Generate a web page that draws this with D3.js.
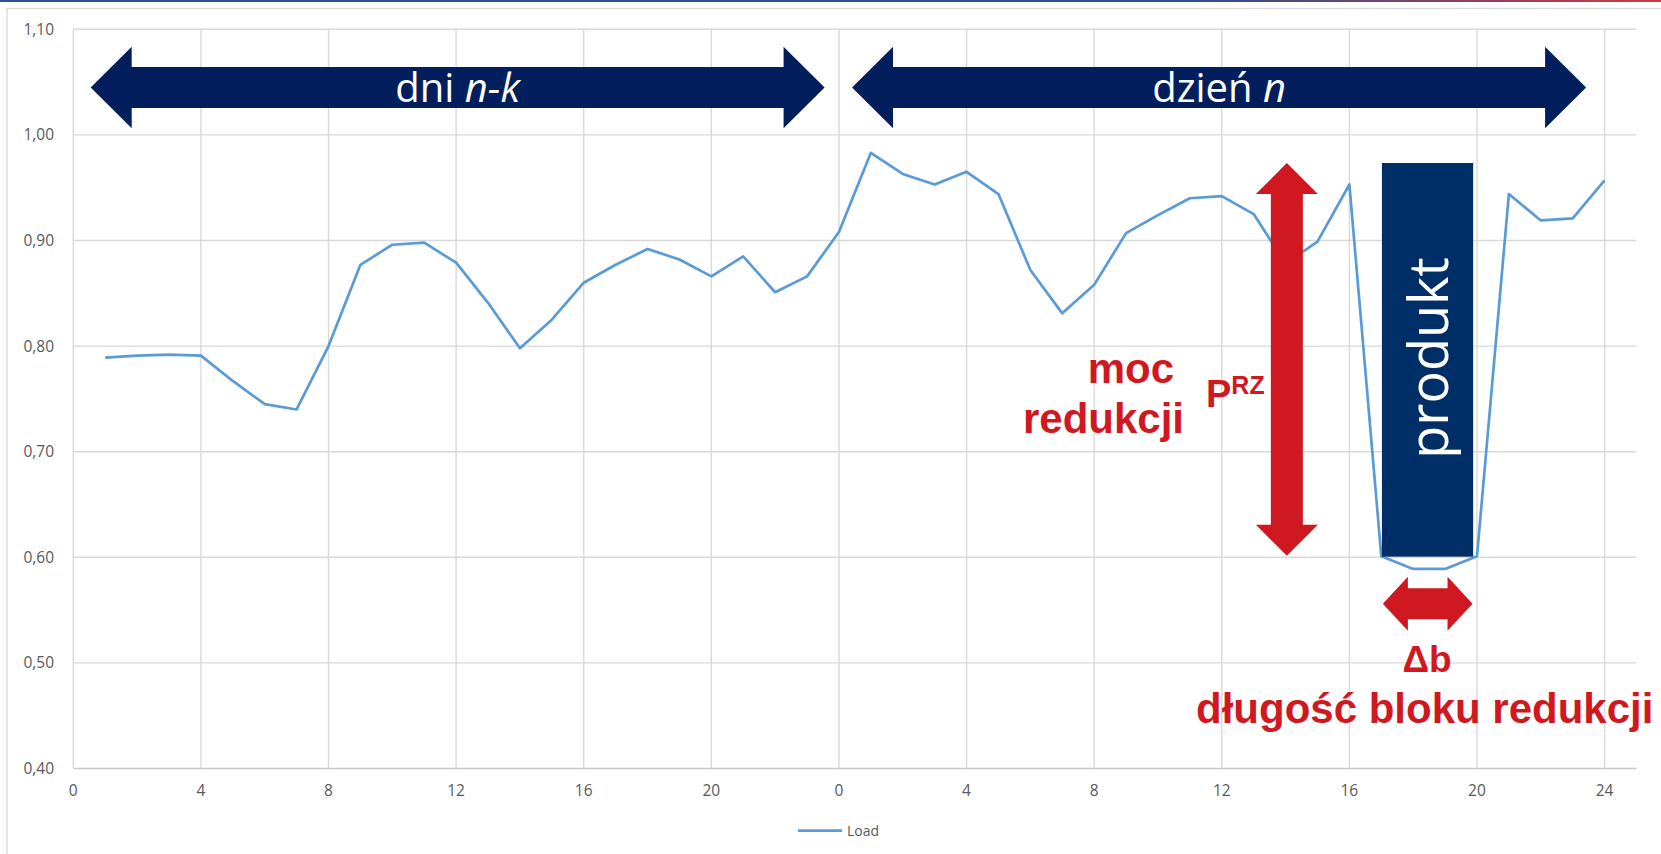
<!DOCTYPE html>
<html>
<head>
<meta charset="utf-8">
<script src="https://cdn.jsdelivr.net/npm/d3@7"></script>
<style>
  body { margin: 0; background: #fff; }
  svg { display: block; }
</style>
</head>
<body>
<svg id="chart" width="1661" height="854"></svg>
<script>
// hour index over two days (1..24 = days n-k, 25..48 = day n)
var hours = d3.range(1, 49);
var load = [
  0.789, 0.791, 0.792, 0.791, 0.767, 0.745, 0.740, 0.800,
  0.877, 0.896, 0.898, 0.879, 0.841, 0.798, 0.825, 0.860,
  0.877, 0.892, 0.882, 0.866, 0.885, 0.851, 0.866, 0.908,
  0.983, 0.963, 0.953, 0.965, 0.944, 0.872, 0.831, 0.858,
  0.907, 0.924, 0.940, 0.942, 0.925, 0.878, 0.899, 0.953,
  0.601, 0.589, 0.589, 0.601, 0.944, 0.919, 0.921, 0.957
];
var tickPos = [0, 4, 8, 12, 16, 20, 24, 28, 32, 36, 40, 44, 48];
var tickLabels = ["0", "4", "8", "12", "16", "20", "0", "4", "8", "12", "16", "20", "24"];
var yTicks = [0.4, 0.5, 0.6, 0.7, 0.8, 0.9, 1.0, 1.1];

var svg = d3.select("#chart");
var navy = "#021e5c";
var red = "#cf1820";

var x = d3.scaleLinear().domain([0, 49]).range([73.3, 1636.5]);
var y = d3.scaleLinear().domain([0.4, 1.1]).range([768.5, 29.3]);

// top strip + chart frame
var grad = svg.append("defs").append("linearGradient").attr("id", "topline");
grad.append("stop").attr("offset", "0%").attr("stop-color", "#2d4f8e");
grad.append("stop").attr("offset", "72%").attr("stop-color", "#2d4f8e");
grad.append("stop").attr("offset", "100%").attr("stop-color", "#d0393f");
svg.append("rect").attr("x", 0).attr("y", 0).attr("width", 1661).attr("height", 2)
    .attr("fill", "url(#topline)");
svg.append("rect").attr("x", 7).attr("y", 8.5).attr("width", 1680).attr("height", 900)
    .attr("fill", "none").attr("stroke", "#d9d9d9").attr("stroke-width", 1.3);

// grid
svg.append("g")
    .selectAll("line.h")
    .data(yTicks)
    .enter().append("line")
    .attr("x1", x(0)).attr("x2", x(49))
    .attr("y1", function (d) { return y(d); })
    .attr("y2", function (d) { return y(d); })
    .attr("stroke", function (d) { return d == 0.4 ? "#c8c8c8" : "#d9d9d9"; })
    .attr("stroke-width", 1.4);
svg.append("g")
    .selectAll("line.v")
    .data(tickPos)
    .enter().append("line")
    .attr("x1", function (d) { return x(d); })
    .attr("x2", function (d) { return x(d); })
    .attr("y1", y(1.1)).attr("y2", y(0.4))
    .attr("stroke", "#d9d9d9")
    .attr("stroke-width", 1.4);

// axis labels
svg.append("g")
    .selectAll("text")
    .data(yTicks)
    .enter().append("text")
    .attr("x", 54)
    .attr("y", function (d) { return y(d); })
    .attr("dy", "0.35em")
    .attr("text-anchor", "end")
    .attr("font-family", "Open Sans")
    .attr("font-size", 15.5)
    .attr("fill", "#595959")
    .text(function (d) { return d3.format(".2f")(d).replace(".", ","); });

svg.append("g")
    .selectAll("text")
    .data(tickPos)
    .enter().append("text")
    .attr("x", function (d) { return x(d); })
    .attr("y", 791)
    .attr("dy", "0.35em")
    .attr("text-anchor", "middle")
    .attr("font-family", "Open Sans")
    .attr("font-size", 15.5)
    .attr("fill", "#595959")
    .text(function (d, i) { return tickLabels[i]; });

// load line
var line = d3.line()
    .x(function (d, i) { return x(hours[i]); })
    .y(function (d) { return y(d); });
svg.append("path")
    .datum(load)
    .attr("d", line)
    .attr("fill", "none")
    .attr("stroke", "#5b9bd5")
    .attr("stroke-width", 2.7)
    .attr("stroke-linejoin", "round");

// legend
svg.append("line").attr("x1", 798).attr("x2", 842).attr("y1", 830.7).attr("y2", 830.7)
    .attr("stroke", "#5b9bd5").attr("stroke-width", 2.7);
svg.append("text").attr("x", 847).attr("y", 831).attr("dy", "0.35em")
    .attr("font-family", "Open Sans").attr("font-size", 14).attr("fill", "#595959")
    .text("Load");

// double arrows (horizontal), sizes in px
function hArrow(x0, x1, cy, shaft, head, len, color) {
    var p = [
        [x0, cy], [x0 + len, cy - head], [x0 + len, cy - shaft], [x1 - len, cy - shaft],
        [x1 - len, cy - head], [x1, cy], [x1 - len, cy + head], [x1 - len, cy + shaft],
        [x0 + len, cy + shaft], [x0 + len, cy + head]
    ];
    svg.append("polygon").attr("points", p.join(" ")).attr("fill", color);
}
function vArrow(cx, y0, y1, shaft, head, len, color) {
    var p = [
        [cx, y0], [cx + head, y0 + len], [cx + shaft, y0 + len], [cx + shaft, y1 - len],
        [cx + head, y1 - len], [cx, y1], [cx - head, y1 - len], [cx - shaft, y1 - len],
        [cx - shaft, y0 + len], [cx - head, y0 + len]
    ];
    svg.append("polygon").attr("points", p.join(" ")).attr("fill", color);
}

hArrow(x(0.545), x(23.55), y(1.0449), 20.5, 40.8, 41, navy);
hArrow(x(24.41), x(47.42), y(1.0449), 20.5, 40.8, 41, navy);

var big = svg.append("g").attr("font-family", "Open Sans").attr("font-weight", 400)
    .attr("font-size", 40).attr("fill", "#fff").attr("text-anchor", "middle");
var t1 = big.append("text").attr("x", (x(0.545) + x(23.55)) / 2).attr("y", y(1.0449)).attr("dy", "0.36em");
t1.append("tspan").text("dni ");
t1.append("tspan").attr("font-style", "italic").text("n-k");
var t2 = big.append("text").attr("x", (x(24.41) + x(47.42)) / 2).attr("y", y(1.0449)).attr("dy", "0.36em");
t2.append("tspan").text("dzień ");
t2.append("tspan").attr("font-style", "italic").text("n");

// reduction power arrow
vArrow(x(38.04), y(0.9733), y(0.6014), 16, 31, 31, red);

// product block
svg.append("rect")
    .attr("x", x(41.02)).attr("y", y(0.9734))
    .attr("width", x(43.88) - x(41.02)).attr("height", y(0.6006) - y(0.9734))
    .attr("fill", "#002f67");
svg.append("text")
    .attr("transform", "translate(" + (x(42.45) + 2) + "," + 358 + ") rotate(-90)")
    .attr("text-anchor", "middle").attr("dy", "0.35em")
    .attr("font-family", "Open Sans").attr("font-weight", 400)
    .attr("font-size", 54).attr("fill", "#fff")
    .text("produkt");

// block length arrow
hArrow(x(41.05), x(43.86), y(0.556), 15.5, 27, 25, red);

// red labels
var lab = svg.append("g").attr("font-family", "Liberation Sans, Arial").attr("font-weight", "bold")
    .attr("fill", red);
lab.append("text").attr("x", 1174).attr("y", 382.7).attr("text-anchor", "end")
    .attr("font-size", 42).text("moc");
lab.append("text").attr("x", 1184).attr("y", 433).attr("text-anchor", "end")
    .attr("font-size", 42).text("redukcji");
var p = lab.append("text").attr("x", 1206).attr("y", 406.7).attr("font-size", 38);
p.append("tspan").text("P");
p.append("tspan").attr("font-size", 25).attr("dy", -12.5).text("RZ");
lab.append("text").attr("x", 1427).attr("y", 671.7).attr("text-anchor", "middle")
    .attr("font-size", 37).text("Δb");
lab.append("text").attr("x", 1196).attr("y", 723.3)
    .attr("font-size", 42).text("długość bloku redukcji");
</script>
</body>
</html>
